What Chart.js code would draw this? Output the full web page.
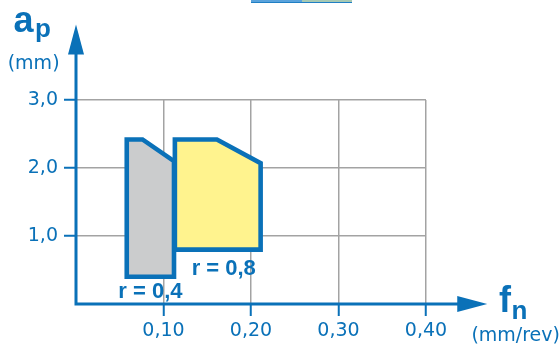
<!DOCTYPE html>
<html>
<head>
<meta charset="utf-8">
<script src="https://cdn.jsdelivr.net/npm/chart.js@4/dist/chart.umd.min.js"></script>
<style>
  html, body { margin: 0; padding: 0; background: #fff; }
  #wrap { position: relative; width: 560px; height: 351px; }
  .tab { position: absolute; top: 0; height: 2px; border-bottom: 1px solid #1f7fc4; }
</style>
</head>
<body>
<div id="wrap">
  <div class="tab" style="left:251px;width:51px;background:#5aa3dc"></div>
  <div class="tab" style="left:302px;width:50px;background:#a6c9b4"></div>
  <canvas id="chart"></canvas>
</div>
<script>
// working areas of the two inserts: feed f (mm/rev) vs depth of cut a (mm)
const insertNames = ['r = 0,8', 'r = 0,4'];
const feedR08  = [0.113, 0.113, 0.161, 0.211, 0.211, 0.113];
const depthR08 = [0.80, 2.42, 2.42, 2.07, 0.80, 0.80];
const feedR04  = [0.058, 0.058, 0.076, 0.112, 0.112, 0.058];
const depthR04 = [0.40, 2.42, 2.42, 2.10, 0.40, 0.40];

const xTickValues = [0, 0.1, 0.2, 0.3, 0.4];
const xTickLabels = ['', '0,10', '0,20', '0,30', '0,40'];
const yTickValues = [0, 1, 2, 3];
const yTickLabels = ['', '1,0', '2,0', '3,0'];

const BLUE = '#0a71b8';
const GRID = '#a3a3a3';

function toPoints(xs, ys) {
  return xs.map((x, i) => ({ x: x, y: ys[i] }));
}

// axis arrows, axis titles and the r labels under each area
const decorPlugin = {
  id: 'decor',
  afterDraw(chart) {
    const ctx = chart.ctx;
    const sx = chart.scales.x, sy = chart.scales.y;
    const x0 = sx.getPixelForValue(0), y0 = sy.getPixelForValue(0);
    const yTip = sy.getPixelForValue(4.11);
    const xTip = sx.getPixelForValue(0.47);
    const head = 30, half = 8;

    ctx.save();
    ctx.strokeStyle = BLUE;
    ctx.fillStyle = BLUE;
    ctx.lineWidth = 3;
    ctx.beginPath();
    ctx.moveTo(x0, y0 + 1.5);
    ctx.lineTo(x0, yTip + head - 2);
    ctx.moveTo(x0 - 1.5, y0);
    ctx.lineTo(xTip - head + 2, y0);
    ctx.stroke();

    ctx.beginPath();
    ctx.moveTo(x0, yTip);
    ctx.lineTo(x0 - half, yTip + head);
    ctx.lineTo(x0 + half, yTip + head);
    ctx.closePath();
    ctx.fill();

    ctx.beginPath();
    ctx.moveTo(xTip, y0);
    ctx.lineTo(xTip - head, y0 - half);
    ctx.lineTo(xTip - head, y0 + half);
    ctx.closePath();
    ctx.fill();

    // axis titles
    ctx.textAlign = 'left';
    ctx.textBaseline = 'alphabetic';
    ctx.font = 'bold 36px "Liberation Sans", Arial, sans-serif';
    ctx.fillText('a', 13.5, 32);
    ctx.fillText('f', 499, 312);
    ctx.font = 'bold 26px "Liberation Sans", Arial, sans-serif';
    ctx.fillText('p', 35, 37);
    ctx.fillText('n', 511.5, 318.5);
    ctx.font = '19px "DejaVu Sans", sans-serif';
    ctx.fillText('(mm)', 7.7, 69);
    ctx.fillText('(mm/rev)', 471.4, 341);

    // r labels, centred below each area
    const shifts = [[6, 25.4], [0, 21.5]];
    ctx.textAlign = 'center';
    ctx.font = 'bold 22px "Liberation Sans", Arial, sans-serif';
    chart.data.datasets.forEach((ds, i) => {
      const xs = ds.data.map(p => p.x), ys = ds.data.map(p => p.y);
      const cx = (sx.getPixelForValue(Math.min(...xs)) + sx.getPixelForValue(Math.max(...xs))) / 2;
      const by = sy.getPixelForValue(Math.min(...ys));
      ctx.fillText(ds.label, cx + shifts[i][0], by + shifts[i][1]);
    });
    ctx.restore();
  }
};

const hideZero = (on) => (c) => (c.tick && c.tick.value === 0 ? 'rgba(0,0,0,0)' : on);

new Chart(document.getElementById('chart'), {
  type: 'scatter',
  data: {
    datasets: [
      {
        label: insertNames[0],
        data: toPoints(feedR08, depthR08),
        showLine: true,
        fill: 'shape',
        backgroundColor: '#fff38e',
        borderColor: BLUE,
        borderWidth: 4.6,
        borderJoinStyle: 'miter',
        borderCapStyle: 'square',
        pointRadius: 0,
        tension: 0
      },
      {
        label: insertNames[1],
        data: toPoints(feedR04, depthR04),
        showLine: true,
        fill: 'shape',
        backgroundColor: '#cbcccd',
        borderColor: BLUE,
        borderWidth: 4.6,
        borderJoinStyle: 'miter',
        borderCapStyle: 'square',
        pointRadius: 0,
        tension: 0
      }
    ]
  },
  options: {
    responsive: true,
    maintainAspectRatio: false,
    animation: false,
    layout: { padding: { top: 100, left: 0, right: 134, bottom: 7 } },
    plugins: {
      legend: { display: false },
      tooltip: { enabled: false }
    },
    scales: {
      x: {
        type: 'linear',
        min: 0,
        max: 0.4,
        afterBuildTicks: s => { s.ticks = xTickValues.map(v => ({ value: v })); },
        afterFit: s => { s.height = 40; },
        border: { display: false },
        grid: {
          color: hideZero(GRID),
          lineWidth: 1.5,
          tickColor: hideZero(BLUE),
          tickWidth: 2,
          tickLength: 12
        },
        ticks: {
          callback: (v, i) => xTickLabels[i],
          color: BLUE,
          font: { family: '"DejaVu Sans", sans-serif', size: 19 },
          padding: 4,
          maxRotation: 0,
          autoSkip: false
        }
      },
      y: {
        type: 'linear',
        min: 0,
        max: 3,
        afterBuildTicks: s => { s.ticks = yTickValues.map(v => ({ value: v })); },
        afterFit: s => { s.width = 76; },
        border: { display: false },
        grid: {
          color: hideZero(GRID),
          lineWidth: 1.5,
          tickColor: hideZero(BLUE),
          tickWidth: 2,
          tickLength: 12
        },
        ticks: {
          callback: (v, i) => yTickLabels[i],
          color: BLUE,
          font: { family: '"DejaVu Sans", sans-serif', size: 19 },
          padding: 6
        }
      }
    }
  },
  plugins: [decorPlugin]
});
</script>
</body>
</html>
